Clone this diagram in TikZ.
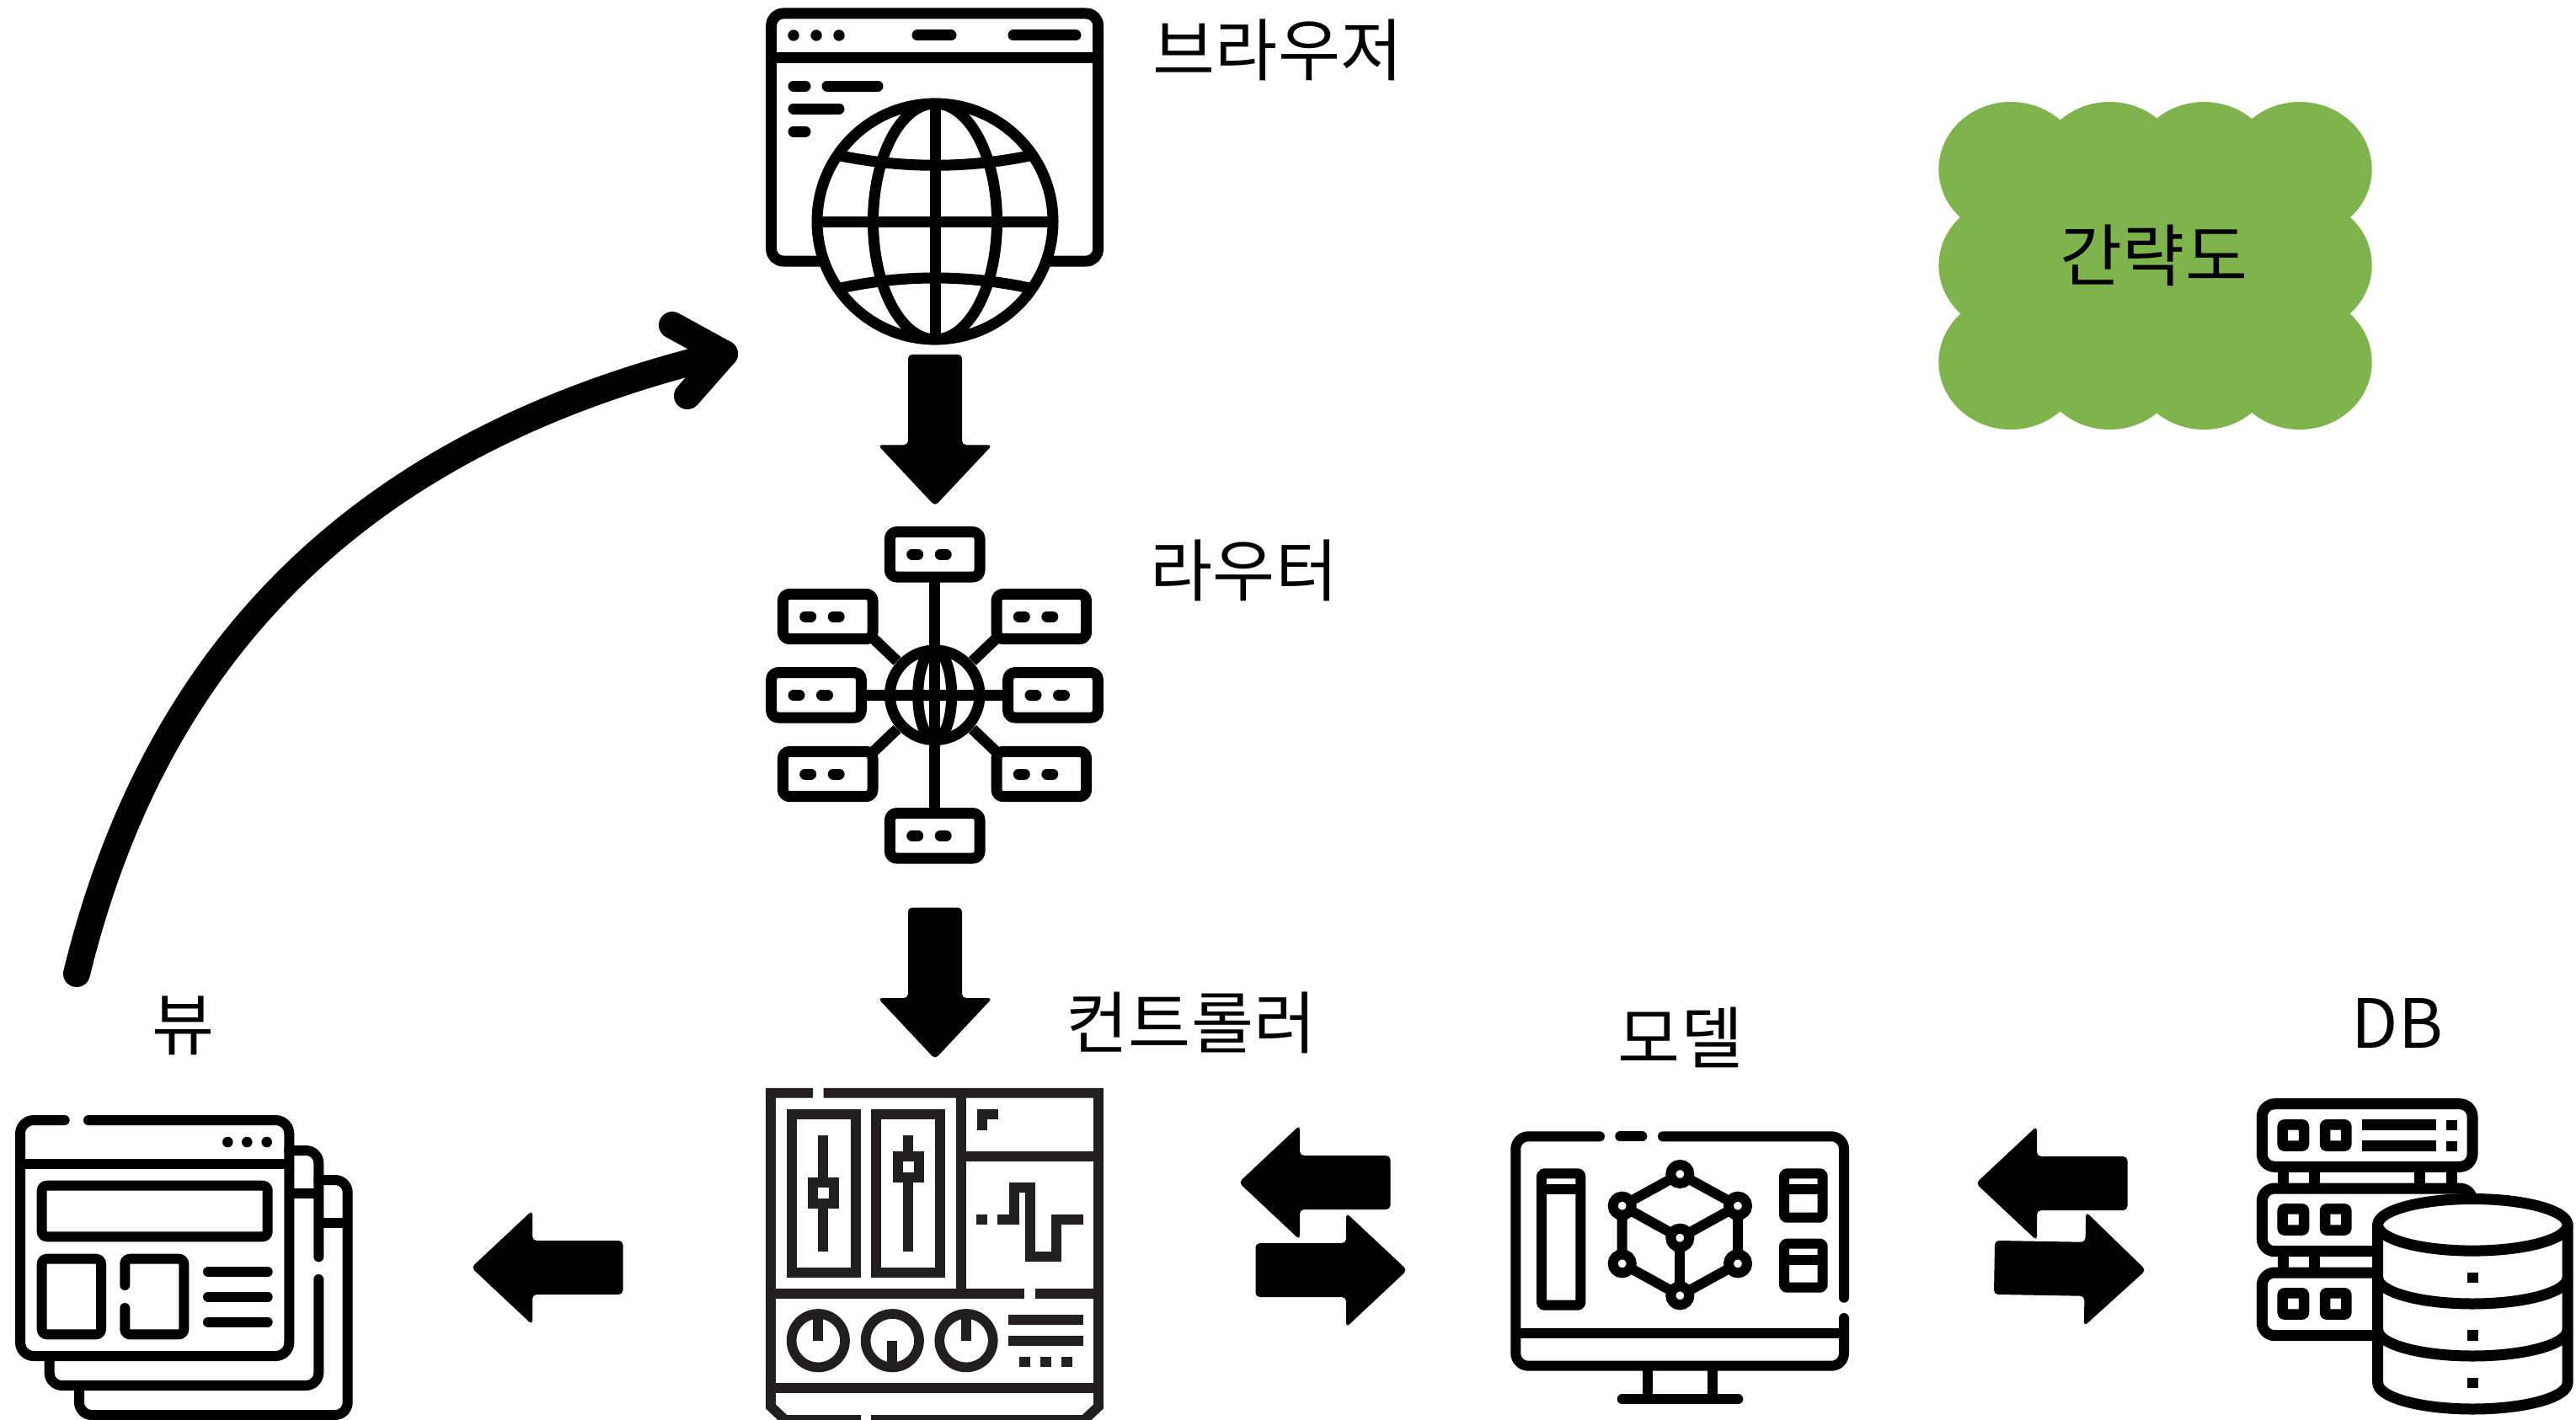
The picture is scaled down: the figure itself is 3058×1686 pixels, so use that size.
\documentclass[tikz,border=0pt]{standalone}
\usepackage{fontspec}
\setmainfont{Noto Sans CJK KR}
\definecolor{ctrlink}{HTML}{231F20}
\definecolor{cloudgreen}{HTML}{7FB34B}
\tikzset{
  ico/.style={line width=13pt,line cap=butt,line join=round,draw=black},
  icr/.style={line width=13pt,line cap=round,line join=round,draw=black},
  thin ico/.style={line width=12pt,line cap=butt,line join=round,draw=black},
  thin icr/.style={line width=12pt,line cap=round,line join=round,draw=black},
  ctrl/.style={line width=11.7pt,line cap=butt,line join=miter,draw=ctrlink},
  ctrlf/.style={fill=ctrlink,draw=none},
  lbl/.style={font=\fontsize{80.5}{96}\selectfont,inner sep=0pt,text=black,anchor=center},
  blockarrow/.style={fill=black,draw=none,rounded corners=5pt}
}
\newcommand{\blkarrow}[3]{%
  \begin{scope}[shift={(#1,#2)},rotate=#3]
    \path[blockarrow] (2.5,0) -- (-70,-68) -- (-70,-32) -- (-177.5,-32) -- (-177.5,32) -- (-70,32) -- (-70,68) -- cycle;
  \end{scope}}
\newcommand{\rbx}[2]{%
  \begin{scope}[shift={(#1,#2)}]
    \draw[ico,fill=white,rounded corners=8pt] (-53.3,-26.7) rectangle (53.3,26.7);
    \draw[icr] (-27,0) -- (-20,0);
    \draw[icr] (6.5,0) -- (13.5,0);
  \end{scope}}
\newcommand{\sbtn}[2]{\draw[thin ico,line width=12.5pt,rounded corners=2pt] (#1,#2) rectangle ++(25.3,25.3);}
\newcommand{\harc}[2]{(2822.7,#1) .. controls (2822.7,#1+0.552*#2) and (2935.3-62.2,#1+#2) .. (2935.3,#1+#2) .. controls (2935.3+62.2,#1+#2) and (3048,#1+0.552*#2) .. (3048,#1)}
\begin{document}
\begin{tikzpicture}[x=1pt,y=-1pt]
\useasboundingbox (0,0) rectangle (3058,1686);
\clip (0,0) rectangle (3058,1686);
\fill[white] (0,0) rectangle (3058,1686);

% ---------- cloud
\fill[cloudgreen] (2387.1,201) rectangle (2730,430);
\foreach \cx in {2387.1,2504.3,2616.4,2730}{
  \fill[cloudgreen] (\cx,201) ellipse[x radius=85.7,y radius=80];
  \fill[cloudgreen] (\cx,430) ellipse[x radius=85.7,y radius=80];
}
\fill[cloudgreen] (2387.1,315) ellipse[x radius=85.7,y radius=80];
\fill[cloudgreen] (2730,315) ellipse[x radius=85.7,y radius=80];
\node[lbl] (lblcloud) at (2557,303) {간략도};

% ---------- browser icon
\draw[ico,rounded corners=14pt] (915.7,16) rectangle (1303.5,310);
\draw[ico] (915.7,69) -- (1303.5,69);
\foreach \dx in {942,969,996}{\fill (\dx,42) circle[radius=6.7];}
\draw[icr] (1089,42) -- (1129,42);
\draw[icr] (1203,42) -- (1277,42);
\draw[icr] (942,102) -- (956,102);
\draw[icr] (982,102) -- (1042,102);
\draw[icr] (942,129) -- (996,129);
\draw[icr] (942,156) -- (956,156);
\draw[ico,fill=white] (1110,263) circle[radius=140];
\draw[ico] (1110,263) ellipse[x radius=73.5,y radius=140];
\draw[ico] (1110,123) -- (1110,403);
\draw[ico] (970,263) -- (1250,263);
\draw[ico] (998,185) .. controls (1072,200) and (1148,200) .. (1222,185);
\draw[ico] (998,342) .. controls (1072,326) and (1148,326) .. (1222,342);

% ---------- router icon
\draw[ico] (1109.7,680) -- (1109.7,970);
\draw[ico] (1020,825.3) -- (1200,825.3);
\draw[ico] (1036.7,758) -- (1065,785);
\draw[ico] (1182.7,758) -- (1154.4,785);
\draw[ico] (1036.7,892.6) -- (1065,865.6);
\draw[ico] (1182.7,892.6) -- (1154.4,865.6);
\rbx{1109.7}{658.3}
\rbx{982.7}{732}
\rbx{1236.3}{732}
\rbx{969}{825.3}
\rbx{1250}{825.3}
\rbx{982.7}{919}
\rbx{1236.3}{919}
\rbx{1109.7}{992.3}
\draw[ico] (1109.7,825.3) circle[radius=53.3];
\draw[ico] (1109.7,825.3) ellipse[x radius=20,y radius=53.3];
\draw[ico] (1056.4,825.3) -- (1163,825.3);

% ---------- controller icon
\draw[ctrl] (965,1297.7) -- (915,1297.7) -- (915,1670) -- (932,1686) -- (1022,1686);
\draw[ctrl] (1034,1686) -- (1287,1686) -- (1304,1670) -- (1304,1297.7) -- (977.5,1297.7);
\draw[ctrl] (1141,1297.7) -- (1141,1535.7);
\draw[ctrl] (1141,1372.7) -- (1304,1372.7);
\draw[ctrl] (915,1535.7) -- (1216,1535.7);
\draw[ctrl] (1228.7,1535.7) -- (1304,1535.7);
\draw[ctrl] (915,1648.3) -- (1304,1648.3);
\draw[ctrl] (939.7,1323) rectangle (1015.7,1511);
\draw[ctrl] (1040,1323) rectangle (1116,1511);
\draw[ctrl] (977.3,1347.7) -- (977.3,1486);
\draw[ctrl,fill=white] (965,1404) rectangle (990.3,1429.3);
\draw[ctrl] (1078,1347.7) -- (1078,1486);
\draw[ctrl,fill=white] (1065.7,1373) rectangle (1091,1398.3);
\draw[ctrl] (1166,1341.7) -- (1166,1323) -- (1185,1323);
\fill[ctrlf] (1159.3,1442.3) rectangle (1172.3,1454);
\draw[ctrl] (1184.3,1448) -- (1203.7,1448) -- (1203.7,1410.3) -- (1222.7,1410.3) -- (1222.7,1491.7) -- (1254,1491.7) -- (1254,1448) -- (1285.7,1448);
\draw[ctrl] (971.3,1591.7) circle[radius=31.7];
\draw[ctrl] (971.3,1560) -- (971.3,1591.7);
\draw[ctrl] (1059.3,1591.7) circle[radius=31.7];
\draw[ctrl] (1059.3,1591.7) -- (1059.3,1623.4);
\draw[ctrl] (1147,1591.7) circle[radius=31.7];
\draw[ctrl] (1147,1560) -- (1147,1591.7);
\draw[ctrl] (1197.3,1567) -- (1285.7,1567);
\draw[ctrl] (1197.3,1592) -- (1285.7,1592);
\fill[ctrlf] (1209.7,1611.3) rectangle (1222.7,1623.3);
\fill[ctrlf] (1235,1611.3) rectangle (1247.7,1623.3);
\fill[ctrlf] (1260,1611.3) rectangle (1272.7,1623.3);

% ---------- view icon
\draw[thin icr,rounded corners=15pt] (378.3,1401) -- (412.7,1401) -- (412.7,1680) -- (94,1680) -- (94,1645);
\draw[thin ico] (378.3,1452) -- (412.7,1452);
\draw[thin icr,rounded corners=15pt] (343,1366) -- (378.3,1366) -- (378.3,1492.3);
\draw[thin icr,rounded corners=15pt] (378.3,1519) -- (378.3,1645) -- (58.7,1645) -- (58.7,1610);
\draw[thin ico] (343,1416.7) -- (378.3,1416.7);
\draw[thin icr,rounded corners=16pt] (76.7,1330) -- (24,1330) -- (24,1610) -- (343.3,1610) -- (343.3,1330) -- (105,1330);
\draw[thin ico] (24,1381.7) -- (343.3,1381.7);
\foreach \dx in {270.3,293.3,316.7}{\fill (\dx,1356) circle[radius=6.3];}
\draw[thin ico,rounded corners=6pt] (49.7,1407.7) rectangle (317.7,1468.3);
\draw[thin ico,rounded corners=6pt] (49.7,1494.7) rectangle (120,1584.3);
\draw[thin icr,rounded corners=6pt] (148.3,1526) -- (148.3,1494.7) -- (218.3,1494.7) -- (218.3,1584.3) -- (148.3,1584.3) -- (148.3,1553);
\draw[thin icr] (247,1510) -- (317.7,1510);
\draw[thin icr] (247,1539.7) -- (317.7,1539.7);
\draw[thin icr] (247,1569.7) -- (317.7,1569.7);

% ---------- model icon
\draw[thin icr,rounded corners=15pt] (1899,1349.3) -- (1799.3,1349.3) -- (1799.3,1621.7) -- (2189,1621.7) -- (2189,1565);
\draw[thin icr,rounded corners=15pt] (1974,1349.3) -- (2189,1349.3) -- (2189,1540.7);
\draw[thin icr] (1923.3,1349.3) -- (1949.3,1349.3);
\draw[thin ico] (1799.3,1583) -- (2189,1583);
\draw[thin ico] (1956.3,1621.7) -- (1956.3,1661.3);
\draw[thin ico] (2032.7,1621.7) -- (2032.7,1661.3);
\draw[thin icr] (1925.7,1661.3) -- (2063.3,1661.3);
\draw[thin ico,rounded corners=3pt] (1830,1393.3) rectangle (1876.3,1549.7);
\draw[thin ico] (1830,1412.3) -- (1876.3,1412.3);
\draw[thin ico,rounded corners=3pt] (2118,1393.3) rectangle (2163.7,1445.7);
\draw[thin ico] (2118,1412.3) -- (2163.7,1412.3);
\draw[thin ico,rounded corners=3pt] (2118,1476.7) rectangle (2163.7,1528.7);
\draw[thin ico] (2118,1495.7) -- (2163.7,1495.7);
\coordinate (cT) at (1994.3,1394);
\coordinate (cUL) at (1925.7,1431.7);
\coordinate (cUR) at (2063,1431.7);
\coordinate (cC) at (1994.3,1469.7);
\coordinate (cLL) at (1925.7,1500.3);
\coordinate (cLR) at (2063,1500.3);
\coordinate (cB) at (1994.3,1538.3);
\draw[thin ico] (cT) -- (cUL) -- (cC) -- (cUR) -- (cT);
\draw[thin ico] (cUL) -- (cLL) -- (cB) -- (cLR) -- (cUR);
\draw[thin ico] (cC) -- (cB);
\foreach \n in {cT,cUL,cUR,cC,cLL,cLR,cB}{\draw[line width=12pt,draw=black,fill=white] (\n) circle[radius=11];}

% ---------- DB icon
\draw[ico,rounded corners=15pt] (2685.3,1310.7) rectangle (2935,1385.3);
\draw[ico,rounded corners=15pt] (2685.3,1411) rectangle (2935,1485.7);
\draw[ico,rounded corners=15pt] (2685.3,1511) rectangle (2935,1585.7);
\foreach \dx in {2710,2747.3,2872.7,2910.3}{\draw[ico] (\dx,1385.3) -- (\dx,1411);}
\foreach \dx in {2710,2747.3}{\draw[ico] (\dx,1485.7) -- (\dx,1511);}
\foreach \dy in {1335.3,1435.3,1535.3}{\sbtn{2709.7}{\dy}\sbtn{2760}{\dy}}
\draw[ico] (2803.7,1335.7) -- (2891.7,1335.7);
\draw[ico] (2803.7,1360.7) -- (2891.7,1360.7);
\fill (2904.3,1329.7) rectangle (2916.7,1341.7);
\fill (2904.3,1354.7) rectangle (2916.7,1366.7);
\draw[ico,fill=white] (2822.7,1454.3) -- \harc{1642}{31} -- (3048,1454.3) -- cycle;
\draw[ico,fill=white] (2935.3,1454.3) ellipse[x radius=112.7,y radius=30.8];
\draw[ico] \harc{1517}{31};
\draw[ico] \harc{1579}{31};
\fill (2929.3,1510.7) rectangle (2941.7,1523);
\fill (2929.3,1579.3) rectangle (2941.7,1591.7);
\fill (2929.3,1635.7) rectangle (2941.7,1648);

% ---------- block arrows
\blkarrow{1110}{598.3}{-90}
\blkarrow{1110}{1255}{-90}
\blkarrow{562}{1505}{180}
\blkarrow{1473}{1404}{180}
\blkarrow{1668}{1508}{0}
\blkarrow{2348}{1405}{180}
\blkarrow{2545}{1508}{-1}

% ---------- curved arrow
\coordinate (curveStart) at (91,1156);
\coordinate (curveEnd) at (860,420);
\coordinate (armUp) at (798,386);
\coordinate (armDown) at (816,470);
\draw[line width=32pt,line cap=round,line join=round] (curveStart) .. controls (188,760) and (440,520) .. (curveEnd);
\draw[line width=32pt,line cap=round,line join=round] (armUp) -- (curveEnd) -- (armDown);

% ---------- labels
\node[lbl] (lblbrowser) at (1517,59) {브라우저};
\node[lbl] (lblrouter) at (1477,677) {라우터};
\node[lbl] (lblctrl) at (1414,1214) {컨트롤러};
\node[lbl] (lblmodel) at (1995,1232) {모델};
\node[lbl] (lbldb) at (2846,1215) {DB};
\node[lbl] (lblview) at (218,1218) {뷰};
\end{tikzpicture}
\end{document}
